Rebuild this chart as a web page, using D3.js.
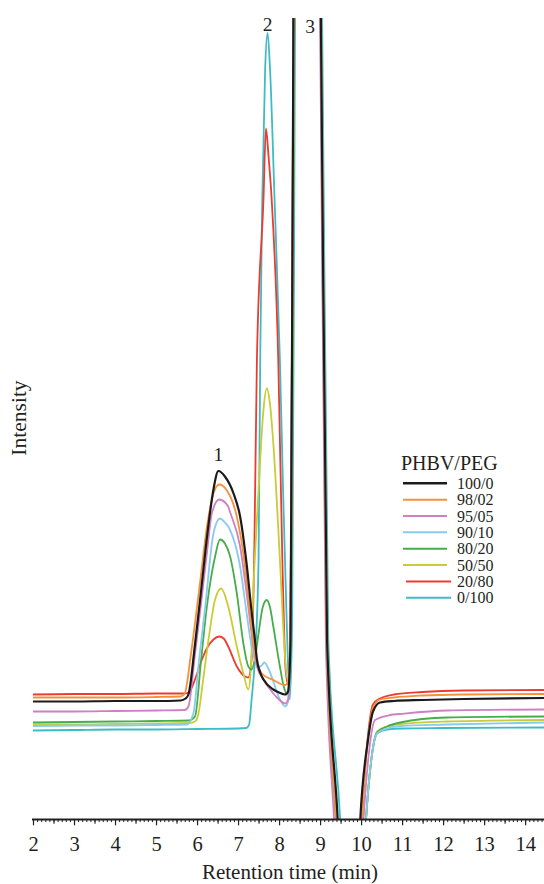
<!DOCTYPE html>
<html>
<head>
<meta charset="utf-8">
<script src="https://cdn.jsdelivr.net/npm/d3@7"></script>
<style>
  body { margin: 0; background: #fff; }
  svg { display: block; }
</style>
</head>
<body>
<div id="wrapper"></div>
<script>
// chromatogram data: [retention time (min), intensity (a.u.)]
const blendNames = ["100/0", "98/02", "95/05", "90/10", "80/20", "50/50", "20/80", "0/100"]
const blendColors = ["#1c1a1b", "#f6913a", "#cd80c2", "#87cbee", "#47ad4a", "#c9cc36", "#ec3c31", "#3dbcc3"]
const legendTitle = "PHBV/PEG"
const xTickLabels = [2, 3, 4, 5, 6, 7, 8, 9, 10, 11, 12, 13, 14]
const peakNames = ["1", "2", "3"]
const peakTimes = [6.52, 7.72, 8.76]
const peakLabelLevels = [359, 789, 787]

const blend100_0 = [[2, 118], [3, 118], [4, 118.5], [5, 118.5], [5.6, 119], [5.72, 121], [5.79, 125], [5.95, 175], [6.11, 233], [6.25, 285], [6.4, 330], [6.52, 348.5], [6.68, 343], [6.89, 326], [7.05, 303], [7.21, 255], [7.33, 208], [7.41, 180], [7.46, 160], [7.54, 147], [7.62, 140], [7.86, 130], [8.0, 127], [8.15, 125], [8.22, 128], [8.28, 180], [8.35, 800], [8.45, 1200], [8.9, 1200], [9.02, 800], [9.17, 180], [9.43, 0], [9.65, -200], [9.8, -200], [9.98, 0], [10.17, 80], [10.29, 108], [10.46, 117], [10.8, 118.5], [11.5, 119.5], [12.5, 120.5], [14.46, 121.5]]
const blend98_02 = [[2, 122], [3, 122], [4, 122], [5, 122.5], [5.6, 123], [5.7, 126], [5.85, 165], [6.07, 236], [6.25, 295], [6.4, 326], [6.54, 335], [6.72, 329.5], [6.97, 303], [7.17, 253], [7.29, 206], [7.41, 166], [7.58, 146], [7.86, 139.5], [8.15, 134.5], [8.24, 140], [8.3, 300], [8.36, 800], [8.45, 1200], [8.9, 1200], [9.02, 800], [9.16, 180], [9.39, 0], [9.62, -200], [9.82, -200], [10.02, 0], [10.17, 82], [10.29, 112], [10.46, 120], [10.8, 122], [11.5, 124], [12.5, 125], [14.46, 125.5]]
const blend95_05 = [[2, 108], [3, 108], [4, 108.5], [5, 109], [5.7, 109.5], [5.79, 113], [5.95, 165], [6.11, 220], [6.25, 270], [6.36, 306], [6.54, 320], [6.76, 313], [6.8, 308], [7.05, 273], [7.21, 226], [7.33, 186], [7.46, 153], [7.62, 140], [7.86, 126], [8.0, 120], [8.15, 116], [8.22, 120], [8.28, 200], [8.35, 800], [8.45, 1200], [8.9, 1200], [9.0, 800], [9.14, 180], [9.34, 0], [9.58, -200], [9.85, -200], [10.06, 0], [10.2, 70], [10.34, 99.5], [10.71, 104.5], [10.95, 105.5], [12.1, 109], [14.46, 110]]
const blend90_10 = [[2, 93.5], [3, 94], [4, 94], [5, 94.5], [5.75, 95], [5.91, 106], [6.05, 160], [6.2, 213], [6.4, 286], [6.56, 301], [6.68, 297], [6.8, 290], [7.05, 253], [7.21, 206], [7.33, 173], [7.46, 155], [7.55, 153], [7.64, 157], [7.75, 150], [7.86, 138], [8.02, 120], [8.15, 113], [8.22, 118], [8.28, 200], [8.36, 800], [8.45, 1200], [8.9, 1200], [9.03, 800], [9.17, 180], [9.4, 0], [9.63, -200], [9.9, -200], [10.12, 0], [10.25, 60], [10.39, 86], [10.63, 91], [10.95, 93.5], [12.1, 95], [14.46, 97]]
const blend80_20 = [[2, 97], [3, 97.5], [4, 98], [5, 98.5], [5.8, 99], [5.95, 103], [6.1, 160], [6.24, 213], [6.44, 263], [6.56, 280], [6.68, 276], [6.8, 264], [6.97, 226], [7.13, 176], [7.25, 153], [7.33, 150], [7.42, 163], [7.5, 186], [7.6, 212], [7.7, 219.5], [7.78, 212], [7.86, 193], [8.02, 153], [8.12, 132], [8.19, 126], [8.25, 140], [8.3, 250], [8.37, 800], [8.45, 1200], [8.9, 1200], [9.01, 800], [9.15, 180], [9.38, 0], [9.61, -200], [9.9, -200], [10.12, 0], [10.25, 60], [10.39, 87], [10.63, 93], [10.95, 97], [12.1, 102], [14.46, 103]]
const blend50_50 = [[2, 95], [3, 95], [4, 95.5], [5, 96], [5.8, 96.5], [5.95, 98], [6.03, 105], [6.15, 140], [6.28, 180], [6.44, 220], [6.59, 231], [6.76, 213], [6.97, 173], [7.13, 146], [7.25, 130], [7.31, 150], [7.37, 226], [7.46, 300], [7.54, 360], [7.62, 410], [7.7, 431], [7.78, 415], [7.86, 376], [8.02, 260], [8.12, 180], [8.2, 140], [8.26, 150], [8.3, 250], [8.37, 800], [8.45, 1200], [8.9, 1200], [9.03, 800], [9.18, 180], [9.42, 0], [9.65, -200], [9.9, -200], [10.12, 0], [10.25, 60], [10.39, 88], [10.63, 93], [10.95, 95.5], [12.1, 98], [14.46, 99.5]]
const blend20_80 = [[2, 125], [3, 125.5], [4, 125.5], [5, 126], [5.7, 126], [5.8, 127], [5.95, 140], [6.1, 158], [6.25, 172], [6.4, 180], [6.54, 183], [6.65, 181], [6.76, 173], [6.97, 153], [7.17, 143], [7.25, 142], [7.33, 160], [7.4, 280], [7.46, 460], [7.62, 620], [7.68, 691], [7.74, 665], [7.82, 620], [7.98, 460], [8.08, 260], [8.16, 150], [8.22, 135], [8.28, 200], [8.35, 800], [8.45, 1200], [8.9, 1200], [9.02, 800], [9.16, 180], [9.39, 0], [9.62, -200], [9.82, -200], [10.02, 0], [10.17, 85], [10.29, 115], [10.46, 121], [10.8, 125], [11.5, 127.5], [12.5, 129], [14.46, 129.5]]
const blend0_100 = [[2, 89], [3, 89.5], [4, 90], [5, 90], [6, 90.5], [7, 91], [7.2, 91.5], [7.27, 95], [7.33, 120], [7.41, 160], [7.5, 260], [7.54, 460], [7.59, 620], [7.66, 750], [7.72, 786.5], [7.78, 750], [7.89, 620], [8.02, 460], [8.1, 326], [8.19, 193], [8.26, 120], [8.32, 200], [8.39, 800], [8.45, 1200], [8.9, 1200], [9.05, 800], [9.2, 180], [9.49, 0], [9.7, -200], [9.9, -200], [10.12, 0], [10.25, 60], [10.39, 86], [10.63, 90], [11, 91], [12, 91.5], [14.46, 92]]

const blendData = [blend100_0, blend98_02, blend95_05, blend90_10, blend80_20, blend50_50, blend20_80, blend0_100]

const serifFont = "'Liberation Serif', 'DejaVu Serif', serif"

async function drawChart() {
  const dimensions = { width: 544, height: 884 }

  const wrapper = d3.select("#wrapper")
    .append("svg")
    .attr("width", dimensions.width)
    .attr("height", dimensions.height)
    .attr("font-family", serifFont)

  // scales
  const xScale = d3.scaleLinear()
    .domain([2, 14.46])
    .range([33, 544])

  const yScale = d3.scaleLinear()
    .domain([0, 800])
    .range([819.5, 19.5])

  wrapper.append("defs").append("clipPath")
    .attr("id", "plotClip")
    .append("rect")
    .attr("x", 32)
    .attr("y", 18)
    .attr("width", 512)
    .attr("height", yScale(0) - 18)

  const lineGenerator = d3.line()
    .x(d => xScale(d[0]))
    .y(d => yScale(d[1]))
    .curve(d3.curveMonotoneX)

  // draw the traces, black last so it sits on top
  const traces = blendNames.map((name, i) => ({ name, color: blendColors[i], values: blendData[i] }))

  wrapper.append("g")
    .attr("clip-path", "url(#plotClip)")
    .selectAll("path")
    .data(traces.slice().reverse())
    .enter().append("path")
      .attr("d", d => lineGenerator(d.values))
      .attr("fill", "none")
      .attr("stroke", d => d.color)
      .attr("stroke-width", d => d.name == "100/0" ? 2.2 : 1.8)
      .attr("stroke-linejoin", "round")

  // x axis: minor ticks every 0.1, half ticks, labelled integers
  const axisY = yScale(0)
  const minorTicks = d3.range(20, 145).map(i => i / 10)
  const halfTicks = d3.range(2.5, 14.5, 1)

  wrapper.append("g")
    .attr("transform", `translate(0, ${axisY})`)
    .call(d3.axisBottom(xScale).tickValues(minorTicks).tickSize(2.6).tickFormat(""))
    .call(g => g.select(".domain").remove())
    .call(g => g.selectAll("line").attr("stroke", "#231f20").attr("stroke-width", 1))

  wrapper.append("g")
    .attr("transform", `translate(0, ${axisY})`)
    .call(d3.axisBottom(xScale).tickValues(halfTicks).tickSize(4.2).tickFormat(""))
    .call(g => g.select(".domain").remove())
    .call(g => g.selectAll("line").attr("stroke", "#231f20").attr("stroke-width", 1.1))

  const xAxis = wrapper.append("g")
    .attr("transform", `translate(0, ${axisY})`)
    .call(d3.axisBottom(xScale).tickValues(xTickLabels).tickSize(5.8).tickSizeOuter(0).tickFormat(d3.format("d")))
    .attr("font-family", serifFont)

  xAxis.select(".domain")
    .attr("stroke", "#231f20")
    .attr("stroke-width", 2)
    .attr("d", `M32,0H544`)
  xAxis.selectAll("line").attr("stroke", "#231f20").attr("stroke-width", 1.2)
  xAxis.selectAll("text")
    .attr("y", 31)
    .attr("dy", null)
    .attr("font-size", 20.5)
    .attr("fill", "#231f20")

  wrapper.append("text")
    .attr("x", 290)
    .attr("y", 879)
    .attr("text-anchor", "middle")
    .attr("font-size", 21)
    .attr("fill", "#231f20")
    .text("Retention time (min)")

  wrapper.append("text")
    .attr("transform", "translate(26, 418) rotate(-90)")
    .attr("text-anchor", "middle")
    .attr("font-size", 21.5)
    .attr("fill", "#231f20")
    .text("Intensity")

  // peak numbers
  wrapper.selectAll(".peakLabel")
    .data(peakNames)
    .enter().append("text")
      .attr("class", "peakLabel")
      .attr("x", (d, i) => xScale(peakTimes[i]))
      .attr("y", (d, i) => yScale(peakLabelLevels[i]))
      .attr("text-anchor", "middle")
      .attr("font-size", 19.5)
      .attr("fill", "#231f20")
      .text(d => d)

  // legend
  const legend = wrapper.append("g")
    .attr("transform", "translate(401, 470)")

  legend.append("text")
    .attr("x", 0)
    .attr("y", 0)
    .attr("font-size", 20)
    .attr("fill", "#231f20")
    .text(legendTitle)

  const items = legend.selectAll(".legendItem")
    .data(traces)
    .enter().append("g")
      .attr("class", "legendItem")
      .attr("transform", (d, i) => `translate(0, ${13.3 + i * 16.35})`)

  items.append("line")
    .attr("x1", (d, i) => i >= 6 ? 5 : 2)
    .attr("x2", (d, i) => i >= 6 ? 50 : 46)
    .attr("y1", 0)
    .attr("y2", 0)
    .attr("stroke", d => d.color)
    .attr("stroke-width", d => d.name == "100/0" ? 2.6 : 2)

  items.append("text")
    .attr("x", 56)
    .attr("y", 5.5)
    .attr("font-size", 16)
    .attr("fill", "#231f20")
    .text(d => d.name)
}

drawChart()
</script>
</body>
</html>
